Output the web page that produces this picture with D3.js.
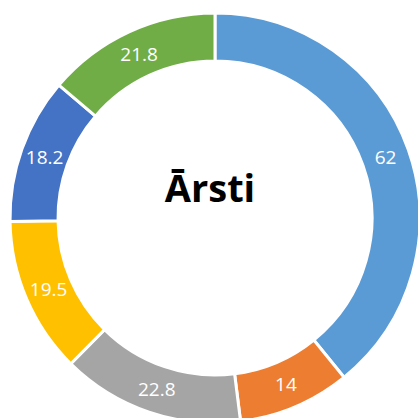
<!DOCTYPE html>
<html>
<head>
<meta charset="utf-8">
<script src="https://cdn.jsdelivr.net/npm/d3@7"></script>
<style>
  body { margin: 0; background: #fff; }
  svg { display: block; }
</style>
</head>
<body>
<script>
const categories = ['A', 'B', 'C', 'D', 'E', 'F'];
const values = [62, 14, 22.8, 19.5, 18.2, 21.8];
const colors = ['#5B9BD5', '#ED7D31', '#A5A5A5', '#FFC000', '#4472C4', '#70AD47'];
const title = 'Ārsti';

const width = 418, height = 418;
const cx = 215, cy = 218;
const outerR = 205, innerR = 157;

const svg = d3.select(document.body).append('svg')
  .attr('width', width)
  .attr('height', height);

const g = svg.append('g')
  .attr('transform', `translate(${cx},${cy})`);

const pie = d3.pie().sort(null).value(d => d);
const arcs = pie(values);

const arc = d3.arc().innerRadius(innerR).outerRadius(outerR);
const labelArc = d3.arc().innerRadius((innerR + outerR) / 2).outerRadius((innerR + outerR) / 2);

g.selectAll('path')
  .data(arcs)
  .enter().append('path')
  .attr('d', arc)
  .attr('fill', (d, i) => colors[i])
  .attr('stroke', '#fff')
  .attr('stroke-width', 3);

g.selectAll('text.lbl')
  .data(arcs)
  .enter().append('text')
  .attr('class', 'lbl')
  .attr('transform', d => `translate(${labelArc.centroid(d)})`)
  .attr('text-anchor', 'middle')
  .attr('dy', '0.36em')
  .style('font-family', 'Open Sans, sans-serif')
  .style('font-size', '19px')
  .style('fill', '#fff')
  .text(d => d.data);

g.append('text')
  .attr('x', -5)
  .attr('y', -16)
  .attr('text-anchor', 'middle')
  .style('font-family', 'Open Sans, sans-serif')
  .style('font-weight', 'bold')
  .style('font-size', '38px')
  .style('fill', '#000')
  .text(title);
</script>
</body>
</html>
